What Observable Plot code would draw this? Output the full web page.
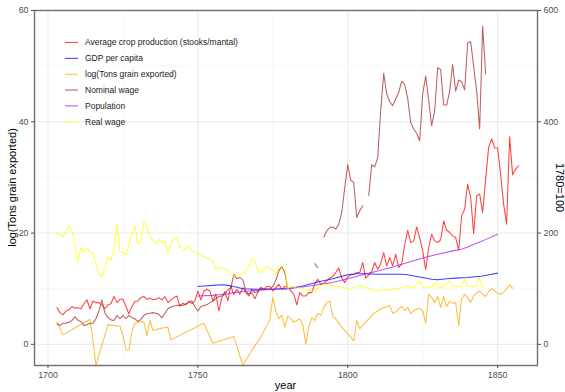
<!DOCTYPE html>
<html>
<head>
<meta charset="utf-8">
<script src="https://cdn.jsdelivr.net/npm/d3@7"></script>
<script src="https://cdn.jsdelivr.net/npm/@observablehq/plot@0.6"></script>
<style>
  html, body { margin: 0; padding: 0; background: #fff; }
  #chart { width: 565px; height: 392px; overflow: hidden; }
</style>
</head>
<body>
<div id="chart"></div>
<script>
// ---- Data (right-axis series are indices, 1780 = 100) ----
const seriesNames = [
  "Average crop production (stooks/mantal)",
  "GDP per capita",
  "log(Tons grain exported)",
  "Nominal wage",
  "Population",
  "Real wage"
];
const seriesColors = ["#ff0000", "#0000ff", "#ffa500", "#a52a2a", "#a020f0", "#ffff00"];

const cropYears = [1703,1704,1705,1706,1707,1708,1709,1710,1711,1712,1713,1714,1715,1716,1717,1718,1719,1720,1721,1722,1723,1724,1725,1726,1727,1728,1729,1730,1731,1732,1733,1734,1735,1736,1737,1738,1739,1740,1741,1742,1743,1744,1745,1746,1747,1748,1749,1750,1751,1752,1753,1754,1755,1756,1757,1758,1759,1760,1761,1762,1763,1764,1765,1766,1767,1768,1769,1770,1771,1772,1773,1774,1775,1776,1777,1778,1779,1780,1781,1782,1783,1784,1785,1786,1787,1788,1789,1790,1791,1792,1793,1794,1795,1796,1797,1798,1799,1800,1801,1802,1803,1804,1805,1806,1807,1808,1809,1810,1811,1812,1813,1814,1815,1816,1817,1818,1819,1820,1821,1822,1823,1824,1825,1826,1827,1828,1829,1830,1831,1832,1833,1834,1835,1836,1837,1838,1839,1840,1841,1842,1843,1844,1845,1846,1847,1848,1849,1850,1851,1852,1853,1854,1855,1856,1857];
const crop = [66,57,53,60,62,68,65,66,64,73,80,64,78,75,75,71,64,71,73,86,75,81,81,68,55,68,77,78,84,86,81,83,80,81,84,80,86,75,80,84,87,68,74,71,78,73,78,96,80,96,99,96,78,90,60,84,95,78,105,90,99,90,102,93,87,99,93,95,102,99,104,104,96,102,108,99,104,102,96,90,71,93,87,87,93,93,108,117,108,110,114,119,122,129,137,119,111,121,125,126,129,129,147,119,125,131,147,135,145,165,141,156,141,162,138,145,179,205,183,186,211,191,168,134,174,198,186,183,188,222,205,201,195,192,169,231,243,288,264,199,267,270,237,297,354,369,353,353,306,252,216,373,305,315,321];

const gdpYears = [1750,1752,1755,1758,1760,1762,1765,1770,1775,1778,1780,1785,1790,1795,1800,1803,1806,1810,1815,1818,1820,1822,1825,1828,1830,1833,1836,1840,1845,1848,1850];
const gdp = [104,105,106,107,106,104,100,99,99,100,100,105,112,118,125,127,127,126,126,126,125,123,120,117,116,118,119,120,123,126,128];

const exportYears = [1703,1705,1714,1715,1716,1720,1724,1725,1726,1727,1728,1729,1731,1732,1733,1734,1735,1737,1740,1741,1752,1755,1762,1765,1768,1771,1774,1775,1776,1777,1778,1779,1780,1781,1782,1783,1784,1785,1786,1787,1788,1789,1790,1791,1792,1793,1794,1795,1796,1797,1798,1799,1800,1801,1802,1803,1804,1805,1807,1809,1811,1814,1815,1816,1817,1818,1819,1820,1821,1822,1824,1825,1826,1827,1828,1829,1830,1831,1832,1833,1834,1835,1836,1837,1838,1839,1840,1841,1842,1843,1844,1845,1846,1847,1848,1849,1850,1851,1852,1853,1854,1855];
const exportsLog = [4.0,1.7,4.5,0.7,-3.8,3.5,3.3,1.6,-1.0,-1.0,2.2,3.8,4.1,4.0,1.6,4.3,2.5,2.8,3.1,0.8,3.8,0.2,1.4,-3.8,-1.1,1.3,4.4,8.5,6.0,4.6,5.3,3.1,5.1,4.6,4.0,4.3,4.6,3.5,0.1,3.1,4.8,4.3,5.6,5.2,6.6,7.5,7.8,5.0,4.6,3.8,3.1,2.5,1.9,1.3,0.6,4.3,2.8,3.4,4.6,5.7,6.4,7.0,5.6,5.8,6.4,6.8,6.1,6.7,5.5,6.1,6.5,6.0,3.8,9.0,8.4,7.5,8.6,6.6,8.6,6.8,7.7,7.4,7.5,3.4,8.2,9.0,8.4,7.5,8.7,9.2,9.6,9.0,8.6,9.5,10.0,9.6,9.2,9.0,9.4,10.0,10.7,10.1];

const wageYears = [1703,1704,1705,1706,1707,1708,1709,1710,1711,1712,1713,1714,1715,1716,1717,1718,1719,1720,1721,1722,1723,1724,1725,1726,1727,1728,1729,1730,1731,1732,1733,1734,1735,1736,1737,1738,1739,1740,1741,1742,1743,1744,1745,1746,1747,1748,1749,1750,1751,1752,1753,1754,1755,1756,1757,1758,1759,1760,1761,1762,1763,1764,1765,1766,1767,1768,1769,1770,1771,1772,1773,1774,1775,1776,1777,1778,1779,1780,1781,1789,1790,1791,1792,1793,1794,1795,1796,1797,1798,1799,1800,1801,1802,1803,1804,1805,1806,1807,1808,1809,1810,1811,1812,1813,1814,1815,1816,1817,1818,1819,1820,1821,1822,1823,1824,1825,1826,1827,1828,1829,1830,1831,1832,1833,1834,1835,1836,1837,1838,1839,1840,1841,1842,1843,1844,1845,1846];
const nominalWage = [37,34,38,38,40,43,50,43,41,34,35,38,38,46,60,80,56,48,44,43,52,46,52,46,52,48,46,41,45,52,55,56,57,56,54,48,56,64,67,69,70,71,70,73,75,78,68,60,68,70,71,75,78,82,86,87,90,98,101,126,118,120,116,96,90,93,82,93,102,99,100,99,104,115,132,140,129,100,null,145,138,null,193,204,210,211,207,216,237,282,323,295,291,228,240,249,null,267,323,319,336,420,487,450,436,429,441,453,473,467,442,399,387,379,366,450,482,438,393,420,497,494,430,430,455,503,455,475,472,457,542,544,500,455,387,572,486];

const popYears = [1750,1755,1757,1760,1762,1765,1770,1775,1780,1785,1790,1795,1800,1805,1810,1815,1820,1825,1830,1835,1838,1840,1845,1850];
const population = [87,88,89,91,93,95,97,99,100,103,107,111,118,125,132,139,147,155,162,168,171,175,186,198];

const realYears = [1703,1705,1707,1708,1710,1711,1712,1713,1714,1715,1716,1717,1718,1719,1720,1721,1722,1723,1724,1725,1726,1728,1729,1730,1731,1732,1733,1734,1735,1736,1737,1738,1739,1740,1741,1742,1743,1744,1745,1746,1747,1748,1749,1750,1751,1752,1753,1754,1755,1756,1757,1758,1759,1760,1761,1762,1763,1764,1765,1766,1767,1768,1769,1770,1771,1772,1773,1774,1775,1776,1777,1778,1779,1780,1781,1782,1783,1784,1785,1786,1787,1788,1789,1790,1791,1792,1793,1794,1795,1796,1797,1798,1799,1800,1801,1802,1803,1804,1805,1806,1807,1808,1809,1810,1811,1812,1813,1814,1815,1816,1817,1818,1819,1820,1821,1822,1823,1824,1825,1826,1827,1828,1829,1830,1831,1832,1833,1834,1835,1836,1837,1838,1839,1840,1841,1842,1843,1844,1845];
const realWage = [201,193,213,205,150,174,165,174,166,164,147,126,122,138,157,152,168,216,168,165,161,198,213,180,183,221,210,195,186,181,189,183,186,163,180,189,191,175,168,173,177,167,166,163,161,157,155,153,150,134,137,138,135,133,127,123,125,125,128,132,140,154,150,132,129,135,141,136,134,126,138,140,138,100,104,103,101,102,100,98,97,96,95,100,106,108,107,106,105,104,104,103,101,99,98,102,104,105,104,102,100,99,97,96,97,98,98,99,99,99,100,102,104,104,103,102,108,114,102,103,104,102,111,101,102,104,108,114,104,104,104,104,117,104,104,104,105,120,102];

// Axis ticks
const xTicks = [1700, 1750, 1800, 1850];
const xMinor = [1725, 1775, 1825];
const yTicks = [0, 20, 40, 60];
const yMinor = [10, 30, 50];

// ---- Build long table (right-axis index series scaled by 1/10 onto left axis) ----
function rows(name, years, values, scale) {
  return years.map((yr, i) => ({
    series: name,
    year: yr,
    value: values[i] == null ? NaN : values[i] / scale
  }));
}
const data = [
  ...rows(seriesNames[0], cropYears, crop, 10),
  ...rows(seriesNames[1], gdpYears, gdp, 10),
  ...rows(seriesNames[2], exportYears, exportsLog, 1),
  ...rows(seriesNames[3], wageYears, nominalWage, 10),
  ...rows(seriesNames[4], popYears, population, 10),
  ...rows(seriesNames[5], realYears, realWage, 10)
];

const W = 565, H = 392;
const mL = 34, mR = 28, mT = 10, mB = 27;
const font = "'Liberation Sans', Arial, Helvetica, sans-serif";

const plot = Plot.plot({
  width: W,
  height: H,
  marginLeft: mL,
  marginRight: mR,
  marginTop: mT,
  marginBottom: mB,
  style: { fontFamily: font, fontSize: "8.8px", background: "#fff", overflow: "visible" },
  x: { domain: [1695.5, 1863.3] },
  y: { domain: [-3.8, 60] },
  color: { domain: seriesNames, range: seriesColors },
  marks: [
    Plot.gridX(xMinor, { stroke: "#f2f2f2", strokeOpacity: 1, strokeWidth: 0.6 }),
    Plot.gridY(yMinor, { stroke: "#f2f2f2", strokeOpacity: 1, strokeWidth: 0.6 }),
    Plot.gridX(xTicks, { stroke: "#ebebeb", strokeOpacity: 1, strokeWidth: 1.1 }),
    Plot.gridY(yTicks, { stroke: "#ebebeb", strokeOpacity: 1, strokeWidth: 1.1 }),
    Plot.line(data, {
      x: "year", y: "value", z: "series", stroke: "series",
      strokeWidth: 1.05, strokeOpacity: 0.75, clip: true
    }),
    Plot.frame({ stroke: "#6e6e6e", strokeWidth: 1.4 }),
    Plot.axisX({ ticks: xTicks, tickFormat: d => String(d), tickSize: 3, tickPadding: 3, color: "#4d4d4d", label: null }),
    Plot.axisY({ ticks: yTicks, anchor: "left", tickSize: 3, tickPadding: 3, color: "#4d4d4d", label: null }),
    Plot.axisY({ ticks: yTicks, anchor: "right", tickFormat: d => String(d * 10), tickSize: 3, tickPadding: 3, color: "#4d4d4d", label: null })
  ]
});

document.getElementById("chart").appendChild(plot);

// ---- Axis titles and legend (ggplot-style) ----
const svg = d3.select(plot);
const panelCY = (mT + (H - mB)) / 2;
const panelCX = (mL + (W - mR)) / 2;

svg.append("text")
  .attr("transform", `translate(12,${panelCY}) rotate(-90)`)
  .attr("text-anchor", "middle").attr("dy", "0.35em")
  .style("font-family", font).style("font-size", "11px").attr("fill", "#000")
  .text("log(Tons grain exported)");

svg.append("text")
  .attr("transform", `translate(${W - 5},${panelCY}) rotate(90)`)
  .attr("text-anchor", "middle").attr("dy", "0.35em")
  .style("font-family", font).style("font-size", "11px").attr("fill", "#000")
  .text("1780=100");

svg.append("text")
  .attr("x", panelCX).attr("y", 385)
  .attr("text-anchor", "middle").attr("dy", "0.35em")
  .style("font-family", font).style("font-size", "11px").attr("fill", "#000")
  .text("year");

const legend = svg.append("g").attr("text-anchor", "start");
const legY0 = 42.5, legStep = 15.85;
seriesNames.forEach((name, i) => {
  const y = legY0 + i * legStep;
  legend.append("line")
    .attr("x1", 65).attr("x2", 78).attr("y1", y).attr("y2", y)
    .attr("stroke", seriesColors[i]).attr("stroke-opacity", 0.75).attr("stroke-width", 1.05);
  legend.append("text")
    .attr("x", 85).attr("y", y).attr("dy", "0.35em")
    .attr("text-anchor", "start")
    .style("font-family", font).style("font-size", "8.5px").attr("fill", "#1a1a1a")
    .text(name);
});
</script>
</body>
</html>
